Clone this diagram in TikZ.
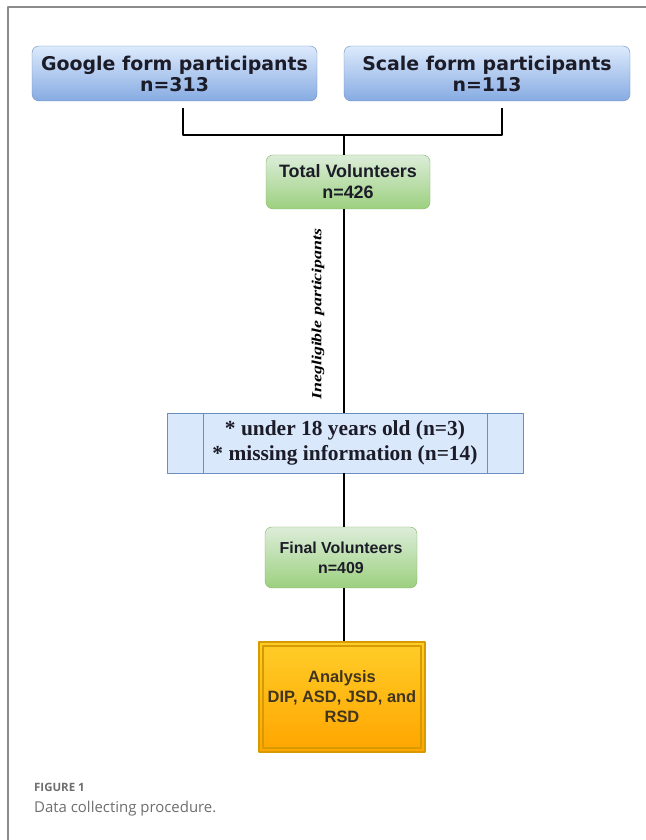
\documentclass[tikz,border=0pt]{standalone}
\usepackage{fontspec}
\setmainfont{Liberation Serif}
\setsansfont{Liberation Sans}
\newfontfamily\formfont{DejaVu Sans}
\newfontfamily\capfont{Open Sans}
\definecolor{frameGray}{HTML}{8C8C8C}
\definecolor{capGray}{HTML}{6E6E6E}
\definecolor{blueTop}{HTML}{DDEAFC}
\definecolor{blueBot}{HTML}{86ABE2}
\definecolor{blueLine}{HTML}{6C8EBF}
\definecolor{blueFill}{HTML}{DAE8FC}
\definecolor{greenTop}{HTML}{DCEDD9}
\definecolor{greenBot}{HTML}{9CD07F}
\definecolor{greenLine}{HTML}{82B366}
\definecolor{orangeTop}{HTML}{FFCD28}
\definecolor{orangeBot}{HTML}{FFA500}
\definecolor{orangeLine}{HTML}{D79B00}
\definecolor{textDark}{HTML}{1C1C28}
\tikzset{
  formbox/.style={draw=blueLine, rounded corners=7bp, top color=blueTop, bottom color=blueBot,
    minimum width=285bp, minimum height=55bp, align=center, text=textDark,
    font=\formfont\bfseries\fontsize{19}{21}\selectfont},
  volbox/.style={draw=greenLine, rounded corners=7bp, top color=greenTop, bottom color=greenBot,
    align=center, text=textDark, font=\sffamily\bfseries\fontsize{16}{20}\selectfont},
  exclbox/.style={draw=blueLine, fill=blueFill, minimum width=356bp, minimum height=60bp,
    align=center, text=textDark, font=\rmfamily\bfseries\fontsize{21.5}{25}\selectfont},
  analysisbox/.style={draw=orangeLine, line width=2bp, top color=orangeTop, bottom color=orangeBot,
    minimum width=166bp, minimum height=110bp, align=center, text=textDark!80!orangeLine,
    font=\sffamily\bfseries\fontsize{16.5}{20}\selectfont},
  captext/.style={anchor=west, inner sep=0bp, text=capGray},
  link/.style={draw=black, line width=2.4bp},
}
\begin{document}
\begin{tikzpicture}[line join=bevel,]
    \useasboundingbox (0bp,0bp) rectangle (646bp,840bp);
    %%
    \fill[white] (0bp,0bp) rectangle (646bp,840bp);
    \draw[frameGray, line width=1.5bp] (8bp,0bp) -- (8bp,833bp) -- (646bp,833bp);
    %%
    \node (google) at (174.5bp,766.5bp) [formbox] {Google form participants\\n=313};
    \node (scale) at (487.0bp,766.5bp) [formbox, minimum width=286bp] {Scale form participants\\n=113};
    \coordinate (jn) at (344.0bp,705.0bp);
    \node (total) at (348.0bp,658.0bp) [volbox, minimum width=164bp, minimum height=54bp, font=\sffamily\bfseries\fontsize{18}{21}\selectfont] {Total Volunteers\\n=426};
    \node (inel) at (318.0bp,526.0bp) [rotate=90, xscale=1.28, font=\rmfamily\bfseries\itshape\fontsize{14}{16}\selectfont] {Inegligible participants};
    \node (excl) at (345.0bp,397.0bp) [exclbox] {* under 18 years old (n=3)\\* missing information (n=14)};
    \node (final) at (341.0bp,282.5bp) [volbox, minimum width=152bp, minimum height=61bp] {Final Volunteers\\n=409};
    \node (analysis) at (342.0bp,143.0bp) [analysisbox] {Analysis\\DIP, ASD, JSD, and\\RSD};
    \node (fig) at (34.0bp,53.0bp) [captext, font=\capfont\bfseries\fontsize{11.5}{13}\selectfont] {FIGURE 1};
    \node (cap) at (34.0bp,31.0bp) [captext, font=\capfont\fontsize{15}{17}\selectfont] {Data collecting procedure.};
    %%
    \draw[blueLine] ([xshift=36bp]excl.north west) -- ([xshift=36bp]excl.south west);
    \draw[blueLine] ([xshift=-36bp]excl.north east) -- ([xshift=-36bp]excl.south east);
    \draw[orangeLine, line width=1.2bp] ([shift={(5bp,5bp)}]analysis.south west) rectangle ([shift={(-5bp,-5bp)}]analysis.north east);
    %%
    \draw [link] ([shift={(8.5bp,-7bp)}]google.south) |- (jn) -| ([shift={(15bp,-7bp)}]scale.south);
    \draw [link] (jn) -- (jn |- total.north);
    \draw [link] (jn |- total.south) -- (jn |- excl.north);
    \draw [link] (jn |- excl.south) -- (jn |- final.north);
    \draw [link] (jn |- final.south) -- (jn |- analysis.north);
    %
\end{tikzpicture}
\end{document}
